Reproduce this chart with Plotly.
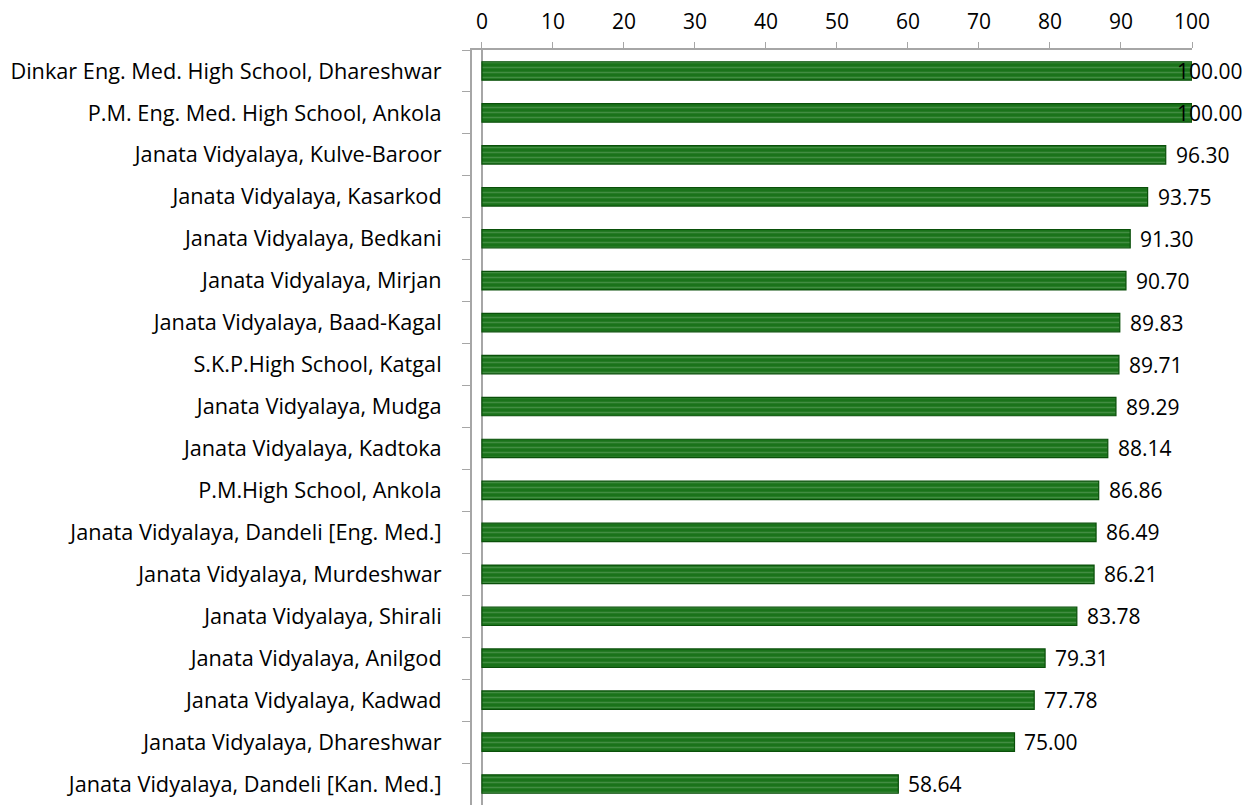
import plotly.graph_objects as go

schools = [
    "Dinkar Eng. Med. High School, Dhareshwar",
    "P.M. Eng. Med. High School, Ankola",
    "Janata Vidyalaya, Kulve-Baroor",
    "Janata Vidyalaya, Kasarkod",
    "Janata Vidyalaya, Bedkani",
    "Janata Vidyalaya, Mirjan",
    "Janata Vidyalaya, Baad-Kagal",
    "S.K.P.High School, Katgal",
    "Janata Vidyalaya, Mudga",
    "Janata Vidyalaya, Kadtoka",
    "P.M.High School, Ankola",
    "Janata Vidyalaya, Dandeli [Eng. Med.]",
    "Janata Vidyalaya, Murdeshwar",
    "Janata Vidyalaya, Shirali",
    "Janata Vidyalaya, Anilgod",
    "Janata Vidyalaya, Kadwad",
    "Janata Vidyalaya, Dhareshwar",
    "Janata Vidyalaya, Dandeli [Kan. Med.]",
]
pass_pct = [100.00, 100.00, 96.30, 93.75, 91.30, 90.70, 89.83, 89.71, 89.29,
            88.14, 86.86, 86.49, 86.21, 83.78, 79.31, 77.78, 75.00, 58.64]
x_ticks = list(range(0, 101, 10))

fig = go.Figure()
fig.add_trace(go.Bar(
    y=schools, x=pass_pct, orientation="h",
    marker=dict(color="#1a731a", line=dict(color="#0a500a", width=1.2),
                pattern=dict(shape="-", fgcolor="#6aa86a", size=5, solidity=0.3)),
    hoverinfo="x+y",
))

# value labels (Excel pulls labels that would overflow back over the bar end)
for s, v in zip(schools, pass_pct):
    full = v >= 99.5
    fig.add_annotation(
        x=v, y=s, xref="x", yref="y", text=f"{v:.2f}", showarrow=False,
        xanchor="left", xshift=(-17 if full else 8),
        font=dict(size=21, color="#000000"),
    )

fig.update_layout(
    width=1248, height=803,
    margin=dict(l=464, r=64, t=42, b=6, autoexpand=False),
    plot_bgcolor="white", paper_bgcolor="white",
    font=dict(family="Open Sans, Liberation Sans, sans-serif", color="#000000"),
    bargap=0.56, showlegend=False,
)
fig.update_xaxes(
    side="top", range=[-1.4, 100], tickvals=x_ticks, ticktext=[str(t) for t in x_ticks],
    showgrid=False, zeroline=True, zerolinecolor="#a6a6a6", zerolinewidth=1.5,
    showline=True, linecolor="#a6a6a6", linewidth=2, automargin=False,
    ticks="outside", tickcolor="#a6a6a6", ticklen=6, tickfont=dict(size=21),
    ticklabelstandoff=5,
)
fig.update_yaxes(
    autorange="reversed", showgrid=False, showline=True, linecolor="#a6a6a6", linewidth=2,
    ticks="outside", tickson="boundaries", tickcolor="#a6a6a6", ticklen=8,
    tickfont=dict(size=21.7), ticklabelstandoff=24, automargin=False,
)
fig.write_html("out.html")
